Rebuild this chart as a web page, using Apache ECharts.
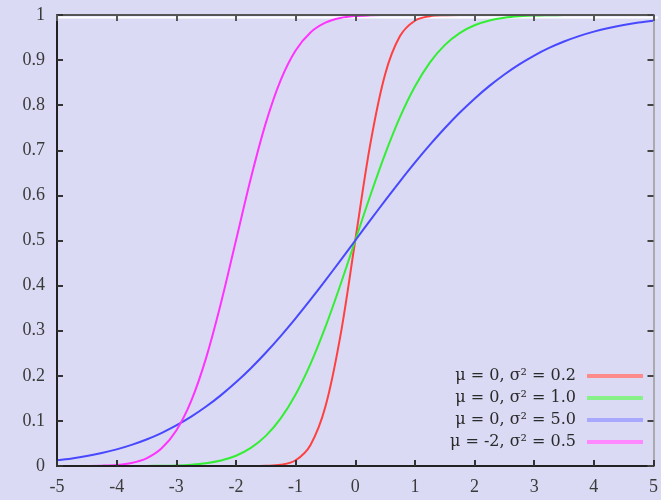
<!DOCTYPE html>
<html><head><meta charset="utf-8">
<script src="https://cdn.jsdelivr.net/npm/echarts@6/dist/echarts.min.js"></script>
<style>html,body{margin:0;padding:0;background:#dadaf4}#c{width:661px;height:500px}</style>
</head><body><div id="c"></div>
<script>
const xs = [-5,-4.75,-4.5,-4.25,-4,-3.75,-3.5,-3.25,-3,-2.75,-2.5,-2.25,-2,-1.75,-1.5,-1.25,-1,-0.75,-0.5,-0.25,0,0.25,0.5,0.75,1,1.25,1.5,1.75,2,2.25,2.5,2.75,3,3.25,3.5,3.75,4,4.25,4.5,4.75,5];
const seriesNames = ['μ = 0, σ² = 0.2','μ = 0, σ² = 1.0','μ = 0, σ² = 5.0','μ = -2, σ² = 0.5'];
const red = [0,0,0,0,0,0,0,0,0,0,0,0,0,0,0.0004,0.0026,0.0127,0.0468,0.1318,0.2880,0.5,0.7120,0.8682,0.9532,0.9873,0.9974,0.9996,1,1,1,1,1,1,1,1,1,1,1,1,1,1];
const green = [0,0,0,0,0,0.0001,0.0002,0.0006,0.0013,0.0030,0.0062,0.0122,0.0228,0.0401,0.0668,0.1056,0.1587,0.2266,0.3085,0.4013,0.5,0.5987,0.6915,0.7734,0.8413,0.8944,0.9332,0.9599,0.9772,0.9878,0.9938,0.9970,0.9987,0.9994,0.9998,0.9999,1,1,1,1,1];
const blue = [0.0127,0.0168,0.0221,0.0287,0.0368,0.0468,0.0588,0.0731,0.0899,0.1094,0.1318,0.1572,0.1855,0.2169,0.2512,0.2881,0.3274,0.3687,0.4115,0.4555,0.5,0.5445,0.5885,0.6313,0.6726,0.7119,0.7488,0.7831,0.8145,0.8428,0.8682,0.8906,0.9101,0.9269,0.9412,0.9532,0.9632,0.9713,0.9779,0.9832,0.9873];
const magenta = [0,0,0.0002,0.0007,0.0023,0.0067,0.0170,0.0386,0.0786,0.1444,0.2398,0.3619,0.5,0.6381,0.7602,0.8556,0.9214,0.9614,0.9830,0.9933,0.9977,0.9993,0.9998,1,1,1,1,1,1,1,1,1,1,1,1,1,1,1,1,1,1];
const colors = ['#ff4040','#33ee33','#4848ff','#ff33ff'];
const legendColors = ['#ff8a8a','#88f088','#a8a8ff','#ff88ff'];

const font = 'Liberation Serif';
const chart = echarts.init(document.getElementById('c'), null, {renderer:'canvas'});
const mk = (name, ys, color) => ({
  name, type:'line', data: xs.map((x,i)=>[x, ys[i]]), smooth:0.35,
  showSymbol:false, symbol:'none', lineStyle:{color, width:2}, itemStyle:{color}, z:2, clip:false
});
chart.setOption({
  backgroundColor:'#dadaf4',
  animation:false,
  grid:{left:57, right:2, top:15, bottom:34},
  legend:{
    orient:'vertical', right:18, top:366, align:'right', itemWidth:56, itemHeight:4, itemGap:2, padding:0,
    icon:'rect', data: seriesNames.map((n,i)=>({name:n, itemStyle:{color:legendColors[i]}})),
    textStyle:{fontFamily:'DejaVu Serif', fontSize:16, color:'#2a2a2a', lineHeight:20, padding:[0,6,0,0]}
  },
  xAxis:[{
    type:'value', min:-5, max:5, interval:1, z:10,
    axisLine:{onZero:false, lineStyle:{color:'#222', width:2}},
    axisTick:{inside:true, length:6, lineStyle:{color:'#333', width:2}},
    axisLabel:{fontFamily:font, fontSize:18, color:'#3a3a3a', margin:12, showMaxLabel:true},
    splitLine:{show:false}
  },{
    type:'value', min:-5, max:5, interval:1, position:'top', z:10,
    axisLine:{onZero:false, lineStyle:{color:'#555', width:2}},
    axisTick:{inside:true, length:6, lineStyle:{color:'#555', width:2}},
    axisLabel:{show:false}, splitLine:{show:false}
  }],
  yAxis:[{
    type:'value', min:0, max:1, interval:0.1, z:10,
    axisLine:{onZero:false, lineStyle:{color:'#222', width:2}},
    axisTick:{inside:true, length:6, lineStyle:{color:'#333', width:2}},
    axisLabel:{fontFamily:font, fontSize:18, color:'#3a3a3a', margin:12},
    splitLine:{show:false}
  },{
    type:'value', min:0, max:1, interval:0.1, position:'right', z:10,
    axisLine:{onZero:false, lineStyle:{color:'#aaa', width:2}},
    axisTick:{inside:true, length:6, lineStyle:{color:'#444', width:2}},
    axisLabel:{show:false}, splitLine:{show:false}
  }],
  graphic:[{type:'line', shape:{x1:58, y1:17.5, x2:658, y2:17.5}, style:{stroke:'#ffffff', lineWidth:2}, z:1}],
  series:[mk(seriesNames[0], red, colors[0]), mk(seriesNames[1], green, colors[1]), mk(seriesNames[2], blue, colors[2]), mk(seriesNames[3], magenta, colors[3])]
});
</script></body></html>
